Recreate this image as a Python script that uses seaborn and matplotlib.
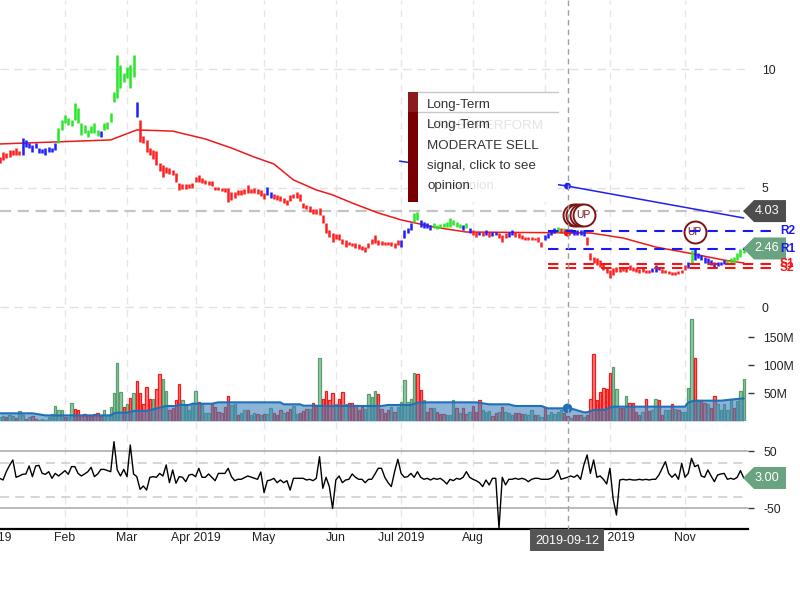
import numpy as np
import pandas as pd
import matplotlib
matplotlib.use("Agg")
import matplotlib.pyplot as plt
from matplotlib.patches import Polygon, Rectangle
import seaborn as sns

# ---------------- data ----------------
holidays = pd.to_datetime(["2019-01-21", "2019-02-18", "2019-04-19", "2019-05-27",
                           "2019-07-04", "2019-09-02"])
days = pd.bdate_range("2019-01-02", "2019-11-27")
days = days[~days.isin(holidays)]            # trading days; index 0 = 2019-01-02

# price bars from trading day 1 (Jan 3) to 229 (Nov 27)
bar_low = [
    6.05, 6.18, 6.26, 6.30, 6.39, 6.39, 6.40,
    6.39, 6.72, 6.68, 6.51, 6.68, 6.47, 6.45, 6.39, 6.51, 6.50, 6.60,
    6.89, 7.44, 7.73, 7.65, 7.62, 7.86, 7.73, 7.23, 7.31, 7.14, 7.30, 7.31, 7.20,
    7.14,
    7.44, 7.50, 7.79, 8.63, 8.78, 9.20, 9.45, 9.62, 9.20, 9.66,
    7.98, 6.93,
    6.90, 6.50, 6.40, 6.20, 5.97, 5.70, 5.46, 5.65, 5.60, 5.55,
    5.25, 4.92, 4.95, 4.95, 4.98, 5.00, 5.25, 5.25, 5.20, 5.15,
    5.12, 5.10, 4.92, 4.92, 4.88, 4.85, 4.41, 4.50, 4.60, 4.70,
    4.72, 4.75, 4.79, 4.80, 4.80, 4.75, 4.65, 4.55, 4.70, 4.60,
    4.55, 4.50, 4.45, 4.35, 4.29, 4.45, 4.60, 4.60, 4.45, 4.16,
    4.10, 4.00, 3.90, 3.92, 3.87, 3.53, 3.10, 2.95, 2.73, 2.85,
    2.80, 2.65, 2.52, 2.60, 2.55, 2.50, 2.45, 2.38, 2.31, 2.50,
    2.65, 2.69, 2.60, 2.62, 2.60, 2.60, 2.55, 2.50, 2.60,
    2.53, 2.89, 3.10, 3.24, 3.59, 3.66, 3.38, 3.31, 3.31, 3.24,
    3.31, 3.27, 3.31, 3.35, 3.38, 3.38, 3.45, 3.35, 3.31, 3.24,
    3.31, 3.10, 3.03, 2.95, 3.03, 3.00, 3.03, 2.95, 3.00, 3.03,
    2.89, 2.74, 2.89, 2.95, 3.03, 2.95, 2.91, 2.87, 2.82, 2.82,
    2.82, 2.80, 2.74, 2.53, 2.82, 2.89, 3.03, 3.10, 3.17, 3.10,
    3.13, 3.10, 3.10, 3.03, 3.03, 3.03, 3.00, 2.60,
    1.97, 1.84, 1.76, 1.69, 1.55, 1.42, 1.21, 1.34, 1.48, 1.48,
    1.50, 1.48, 1.55, 1.52, 1.48, 1.44, 1.48, 1.42, 1.42, 1.48,
    1.48, 1.55, 1.44, 1.42, 1.40, 1.34, 1.34, 1.38, 1.42, 1.55,
    1.63, 1.84, 1.97, 2.05, 1.97, 1.84, 1.84, 1.76, 1.69, 1.72,
    1.76, 1.80, 1.84, 1.86, 1.90, 1.97, 2.11, 2.26,
]
bar_high = [
    6.30, 6.50, 6.47, 6.60, 6.60, 6.68, 6.55,
    7.10, 7.02, 6.89, 6.81, 6.89, 6.68, 6.62, 6.68, 6.72, 6.68, 6.89,
    7.52, 7.86, 8.07, 7.94, 7.86, 8.57, 8.36, 7.73, 7.65, 7.44, 7.60, 7.73, 7.45,
    7.39,
    7.73, 7.78, 8.14, 9.05, 10.59, 10.17, 9.83, 10.08, 10.17, 10.59,
    8.61, 7.86,
    7.20, 7.00, 6.70, 6.60, 6.55, 6.05, 5.97, 5.88, 5.85, 5.75,
    5.63, 5.21, 5.15, 5.15, 5.15, 5.20, 5.46, 5.55, 5.40, 5.35,
    5.30, 5.28, 5.04, 5.04, 5.02, 5.00, 5.00, 4.83, 4.85, 4.90,
    4.92, 4.95, 5.13, 4.95, 5.00, 4.95, 4.90, 4.80, 5.04, 4.85,
    4.75, 4.70, 4.65, 4.60, 4.50, 4.70, 4.75, 4.85, 4.75, 4.37,
    4.30, 4.25, 4.10, 4.12, 4.16, 3.87, 3.53, 3.25, 3.10, 3.05,
    3.05, 2.85, 2.82, 2.75, 2.70, 2.68, 2.65, 2.55, 2.52, 2.70,
    2.85, 3.03, 2.80, 2.78, 2.75, 2.75, 2.72, 2.70, 2.80,
    2.82, 3.24, 3.31, 3.52, 3.94, 4.00, 3.66, 3.59, 3.52, 3.45,
    3.52, 3.45, 3.49, 3.52, 3.56, 3.73, 3.66, 3.59, 3.49, 3.45,
    3.52, 3.31, 3.24, 3.17, 3.17, 3.14, 3.24, 3.17, 3.17, 3.17,
    3.10, 3.03, 3.10, 3.17, 3.24, 3.17, 3.10, 3.03, 2.95, 2.95,
    2.95, 2.92, 2.95, 2.74, 3.03, 3.10, 3.24, 3.31, 3.38, 3.31,
    3.31, 3.27, 3.27, 3.24, 3.24, 3.24, 3.20, 2.94,
    2.26, 2.11, 2.05, 1.97, 1.84, 1.69, 1.55, 1.63, 1.69, 1.63,
    1.69, 1.63, 1.76, 1.66, 1.63, 1.58, 1.63, 1.55, 1.55, 1.63,
    1.76, 1.69, 1.58, 1.55, 1.52, 1.48, 1.48, 1.52, 1.55, 1.76,
    1.90, 2.39, 2.47, 2.26, 2.18, 2.11, 2.05, 1.97, 1.90, 1.90,
    1.90, 1.97, 1.97, 2.05, 2.11, 2.26, 2.42, 2.53,
]
bar_color = ("rrrrrrr" + "bbbbbbbbbbb" + "ggggggggggggg" + "b" + "gggggggggg" + "b" + "r"
             + "r" * 38 + "bb" + "r" * 39
             + "bbbbggbbbb" + "ggggggggg" + "bgb" + "rrbrbrbb" + "rrrbb" + "rrrrrrrrr"
             + "bbbb" + "grg" + "bbbbbb" + "r"
             + "r" * 19 + "bbb" + "r" * 8 + "b" + "g" + "b" * 10 + "g" * 6)

# volume (millions), same days
vol_m = [
    7.7, 9, 8, 10.7, 9, 5, 17.9, 10.7, 4, 7.7, 9, 4, 2, 3, 2, 7.7, 12, 26, 19, 19,
    7.7, 7.7, 31.5, 21, 19, 10.7, 12, 10.7, 9, 12.5, 14, 9, 19, 10.7, 25, 49.4, 103, 51, 25, 30,
    40.5, 49.4, 71.4, 49.4, 30, 60, 38.7, 38.7, 56.6, 83.3, 74.4, 53.6, 20, 24, 37.5, 65.5, 37.5, 26, 20, 30,
    53.6, 33.3, 30, 14.8, 14.8, 30, 25, 16.6, 13.7, 25, 44.6, 29, 30, 10.7, 13.7, 19.6, 19.6, 10.7, 13.7, 12,
    10, 12, 12, 23, 13.7, 10.7, 19.6, 13.7, 16.6, 21, 26, 12, 14.8, 17.9, 21, 21, 33, 26, 112, 38.7,
    53.6, 37.5, 49.4, 30, 38.7, 51, 30, 33, 31.5, 28.6, 19.6, 25, 21, 47.6, 42.3,
    53.6, 47.6, 21, 14, 19.6, 25.6, 15.5, 25.6, 33.3, 73, 33.3, 38.7, 85, 83.3, 54.8, 37.5, 16.6, 23.8, 23.8, 16.6,
    12, 12, 10.7, 10.7, 37.5, 23.8, 14, 23.8, 12, 16.6, 26.8, 15.5, 37.5, 19.6, 15.5, 17.9, 9.5, 14, 16.6, 25.6,
    15.5, 14, 10.7, 14, 15, 12, 12, 10.7, 19.6, 10.7, 10.7, 7, 23.8, 10.7, 16.6, 13, 15.5, 19.6, 14, 9.5,
    4.8, 10.7, 10.7, 10.7, 7, 10.7, 38.7, 119, 37.5, 51, 58.3, 56.6, 85, 97, 56.6, 23.8, 23.8, 44.6, 32.7, 31.5,
    16.6, 10.7, 16.6, 38.7, 17.9, 19, 38.7, 37, 10.7, 19.6, 19.6, 29.8, 21, 19.6, 16.6, 16.6, 58.3, 181.6, 112, 37.5,
    36, 31.5, 29.8, 23.8, 44.6, 29.8, 19.6, 29.8, 19.6, 38.7, 23.8, 36, 53.6, 75,
]
vol_dir = ("ggrggrggrgrrgggggggg" "rggrrrrrrrrrggggggrg" "rgrrrrrgrrggrrrrgggg"
           "grgggrrrrrrggrggrggr" "grggrrrgrrggrrrgrrgr" "rrrgrrgrrrrrggg"
           "grrrrgrggggggrrgrrgr" "rrgggrgrrgrrrgggrrgr" "gggrrrgggrggrgggggrr"
           "grrrgrrrrrrrrggrrgrr" "rrgrrggrrggrgrggggrg" "rrgrrgggggrggg")

# oscillator, same days
ind_val = [
    2.4, -0.5, 14, 25, 34.4, 4.2, 6.5, 9.4, 10, 24, 5.3, 24, 25, 11.1, 9.4, 14, 2.4, 11, 6.5, 11,
    15.8, 9.4, 22.8, 22.8, 11, 6.5, 10, 14, 21.6, 5.3, 10, 18, 18, 16, 14, 66.4, 17, 6.5, 18, 5.3,
    60.6, 10, 5.3, -16.8, -11, -18, 4.2, 5.3, 4.2, 11, 6.5, 25.7, -5.2, 17, -6.3, 5.3, 4.2, -3.4, 8.2, 9.4,
    5.3, 19.9, 4.2, 4.2, 10, 4.2, -1.7, 11, 11, 11, 19.9, 5.3, -1.7, 0.7, 0.7, 3.5, 6.5, 4.5, 2.4, 0.7,
    13.5, -22.6, -1.7, -0.5, 2.4, -5.2, -0.5, -5.2, -1.7, -18, 2.4, 2.4, 2.4, 2.4, -0.5, 0.7, -1.7, 2.4, 40.2, -15,
    4.2, -12, -50, -0.5, 6.5, -5.2, -0.5, 0.7, 10, 4.2, 0.7, 0.7, -5.2, 0.7, 0.7, 10, 19.9, 19.9, 4.2, -5.2,
    -12, 14, 35.6,
    11, 4.2, 5.3, 11, 4.2, 14, 4.2, 0.7, 2.4, -0.5, 2.4, 0.7, 2.4, -1.7, -7.5, 0.7, -1.7, 2.4, 0.7, 4.2,
    14, 4.2, 0.7, -1.7, -5.2, -12, -0.5, -9.2, 2.4, 2.4, -85, 4.2, -9.2, 0.7, 0.7, 2.4, 0.7, 2.4, 0.7, -3.4,
    0.7, 2.4, 2.4, 0.7, 0.7, 0.7, 2.4, 6.5, 17, 0.7, 2.4, 4.2, 6.5, 4.2, 8.2, 0.7, 25.7, 43.1, 11, 34.4,
    4.2, 6.5, 0.7, -7.5, 19.9, -34.2, -61.6, -0.5, 0.7, -0.5, 0.7, -0.5, -0.5, 0.7, -0.5, 0.7, -0.5, 0.7, 0.7, 8.2,
    19.9, 31.5, 11, 4.2, 10, 0.7, 28.6, 4.2, 11, 37.3, 22.8, 25.7, 6.5, 4.2, 17, 6.5, -3.4, 8.2, 10, 11,
    0.7, 2.4, 0.7, 4.2, 15.8, 3.0,
]

# long moving average of price (knots)
ma_day = [1, 17, 35, 43, 54, 64, 72, 79, 85, 91, 98, 103, 109, 117, 124, 134, 144, 182, 192, 202, 212, 223, 229]
ma_val = [6.85, 6.93, 7.02, 7.44, 7.39, 7.06, 6.68, 6.30, 6.01, 5.34, 4.92, 4.71, 4.37, 3.95, 3.66,
          3.36, 3.15, 3.11, 2.90, 2.52, 2.27, 1.97, 1.85]
# volume moving average (knots, millions)
vma_day = [1, 11, 15, 35, 36, 37, 40, 42, 46, 50, 52, 55, 56, 59, 60, 66, 68, 87, 88, 93, 94, 98, 99,
           118, 120, 127, 129, 131, 147, 151, 157, 159, 167, 169, 175, 177, 180, 181, 183, 186, 189,
           211, 212, 214, 222, 229]
vma_val = [13.7, 13.7, 10, 10, 13.7, 14.8, 14.8, 17.9, 17.9, 23.8, 26.8, 26.8, 28.6, 28.6, 30.9, 30.9,
           33.3, 33.3, 29.8, 29.8, 27.4, 27.4, 26.8, 26.8, 28.6, 28.6, 32.7, 33.3, 33.3, 29.8, 29.8,
           26.8, 26.8, 22.6, 22.6, 20.8, 15.5, 15.5, 19.6, 19.6, 25.6, 25.6, 33.3, 36.3, 36.3, 40.5]
# trend line
trend_day = [123.5, 175, 229]
trend_val = [6.13, 5.08, 3.74]

sel_day = 175                     # crosshair day
last_price, target_price = 2.46, 4.03
levels = {"R2": 3.21, "R1": 2.42, "S1": 1.81, "S2": 1.63}
up_day = [177, 178, 179, 180, 214]
up_val = [3.87, 3.87, 3.87, 3.87, 3.15]
ind_last = 3.00
price_ticks = [0, 5, 10]
vol_ticks = [50, 100, 150]
ind_ticks = [-50, 50]

# ---------------- style / layout ----------------
sns.set_style("white")
plt.rcParams["font.family"] = ["Liberation Sans", "DejaVu Sans"]

W, H = 800, 600
fig = plt.figure(figsize=(8, 6), dpi=100)


def px_rect(x0, y0, x1, y1):
    return [x0 / W, 1 - y1 / H, (x1 - x0) / W, (y1 - y0) / H]


px_per_day, x_first = 3.263, -3.5
xlim = ((0 - x_first) / px_per_day, (748 - x_first) / px_per_day)

ax_bg = fig.add_axes(px_rect(0, 0, 748, 529), zorder=0)
ax_p = fig.add_axes(px_rect(0, 0, 748, 421), zorder=1)
ax_v = fig.add_axes(px_rect(0, 307, 748, 421), zorder=2)
ax_i = fig.add_axes(px_rect(0, 440, 748, 529), zorder=2)
ax_o = fig.add_axes([0, 0, 1, 1], zorder=5)
ax_o.set_xlim(0, W)
ax_o.set_ylim(H, 0)
ax_o.axis("off")

for ax in (ax_bg, ax_p, ax_v, ax_i):
    ax.set_xlim(*xlim)
    ax.set_facecolor("none")
    for s in ax.spines.values():
        s.set_visible(False)
    ax.set_xticks([])
ax_bg.set_yticks([])
ax_bg.set_ylim(0, 1)

# month positions
month_first = pd.Series(np.arange(len(days)), index=days).groupby(days.to_period("M")).first()
month_pos = list(month_first.values)
month_lab = ["Jan 2019", "Feb", "Mar", "Apr 2019", "May", "Jun", "Jul 2019", "Aug", "Sep",
             "Oct 2019", "Nov"]
for p in month_pos[1:]:
    ax_bg.axvline(p, color="#e6e6e6", lw=1, ls=(0, (5, 4)))

# ---------------- price panel ----------------
ax_p.set_ylim((307 - 421) / 23.8, 307 / 23.8)
for v in price_ticks:
    ax_p.axhline(v, color="#e2e2e2", lw=1, ls=(0, (6, 4)), zorder=0)
ax_p.axhline(target_price, color="#c4c4c4", lw=1.6, ls=(0, (5, 3)), zorder=1)

x_bars = np.arange(1, 1 + len(bar_low))
cmap = {"r": "#ff1e1e", "b": "#1e1eff", "g": "#28e628"}
ax_p.vlines(x_bars, bar_low, bar_high, colors=[cmap[c] for c in bar_color], lw=1.8, zorder=3)

sns.lineplot(x=ma_day, y=ma_val, ax=ax_p, color="#f01818", lw=1.1, zorder=2)
sns.lineplot(x=trend_day, y=trend_val, ax=ax_p, color="#2020f0", lw=1.1, zorder=2)
ax_p.scatter([trend_day[1]], [trend_val[1]], s=24, color="#2020f0", edgecolors="none", zorder=4)
ax_p.scatter([sel_day], [np.interp(sel_day, ma_day, ma_val)], s=30, color="#f01818",
             edgecolors="none", zorder=4)

# signal circles (white filled, drawn one over another)
ax_p.scatter(up_day, up_val, s=250, facecolors="white", edgecolors="#7a1515", linewidths=1.4, zorder=4)
for d, v in zip([up_day[3], up_day[4]], [up_val[3], up_val[4]]):
    ax_p.text(d, v, "UP", color="#7a1515", fontsize=7.5, ha="center", va="center", zorder=4.5)

x_lvl_end = (775 - x_first) / px_per_day
for name, v in levels.items():
    col = "#1a1aee" if name.startswith("R") else "#f01414"
    ax_p.plot([169, x_lvl_end], [v, v], color=col, lw=1.5, ls=(0, (5, 3.5)), clip_on=False, zorder=5)

ax_p.yaxis.tick_right()
ax_p.set_yticks(price_ticks)
ax_p.set_yticklabels([str(t) for t in price_ticks])
ax_p.tick_params(axis="y", length=0, pad=10, labelsize=8.8, labelcolor="#222222")
ax_p.set_xlabel("")
ax_p.set_ylabel("")

# ---------------- volume panel ----------------
ax_v.set_ylim(0, (421 - 307) * 50 / 28)
fill = {"g": "#93c9a3", "r": "#ff7a7a"}
edge = {"g": "#5b9c70", "r": "#f01c1c"}
x_vol = np.arange(1, 1 + len(vol_m))
ax_v.bar(x_vol, vol_m, width=0.72, color=[fill[c] for c in vol_dir],
         edgecolor=[edge[c] for c in vol_dir], linewidth=0.9, zorder=1)
ax_v.fill_between(vma_day, vma_val, color="#3f82bc", alpha=0.6, lw=0, zorder=2)
sns.lineplot(x=vma_day, y=vma_val, ax=ax_v, color="#1f70b8", lw=1.5, zorder=3)
ax_v.scatter([sel_day], [np.interp(sel_day, vma_day, vma_val)], s=48, color="#1f70b8",
             edgecolors="none", zorder=4)
ax_v.yaxis.tick_right()
ax_v.set_yticks(vol_ticks)
ax_v.set_yticklabels([f"{t}M" for t in vol_ticks])
ax_v.tick_params(axis="y", length=4, width=1, color="#333333", pad=7, labelsize=8.8,
                 labelcolor="#222222")
ax_v.set_xlabel("")
ax_v.set_ylabel("")

# ---------------- oscillator panel ----------------
ax_i.set_ylim((479.7 - 529) / 0.573, (479.7 - 440) / 0.573)
for v in ind_ticks:
    ax_i.axhline(v, color="#b4b4b4", lw=1.3, zorder=0)
for v in (-30, 30):
    ax_i.axhline(v, color="#cccccc", lw=1.1, ls=(0, (6, 4)), zorder=0)
sns.lineplot(x=np.arange(1, 1 + len(ind_val)), y=ind_val, ax=ax_i, color="black", lw=1.0, zorder=2)
ax_i.spines["bottom"].set_visible(True)
ax_i.spines["bottom"].set_color("black")
ax_i.spines["bottom"].set_linewidth(1.6)
ax_i.yaxis.tick_right()
ax_i.set_yticks(ind_ticks)
ax_i.set_yticklabels([str(t) for t in ind_ticks])
ax_i.tick_params(axis="y", length=4, width=1, color="#333333", pad=7, labelsize=8.8,
                 labelcolor="#222222")
ax_i.set_xlabel("")
ax_i.set_ylabel("")

label_pos = [month_pos[0] - 3] + month_pos[1:]
for p, lab in zip(label_pos, month_lab):
    ax_i.text(p, -0.1, lab, transform=ax_i.get_xaxis_transform(), ha="center", va="center",
              fontsize=8.8, color="#222222", clip_on=False)

# ---------------- overlay: crosshair, tags, tooltip ----------------
fig.canvas.draw()


def to_px(ax, x, y):
    dx, dy = ax.transData.transform((x, y))
    return dx, H - dy


cx, _ = to_px(ax_p, sel_day, 0)
ax_o.plot([cx, cx], [0, 529], color="#a0a0a0", lw=1, ls=(0, (4, 3)), zorder=1)


def tag(ax, value, text, color):
    _, y = to_px(ax, 0, value)
    pts = [(743, y), (754, y - 11), (786, y - 11), (786, y + 11), (754, y + 11)]
    ax_o.add_patch(Polygon(pts, closed=True, facecolor=color, edgecolor="none", zorder=3))
    ax_o.text(767, y, text, color="white", fontsize=9.2, ha="center", va="center", zorder=4)


tag(ax_p, target_price, f"{target_price:.2f}", "#4d4d4d")
tag(ax_p, last_price, f"{last_price:.2f}", "#6aa380")
tag(ax_i, ind_last, f"{ind_last:.2f}", "#6aa380")

for name, v in levels.items():
    col = "#1a1aee" if name.startswith("R") else "#f01414"
    _, y = to_px(ax_p, 0, v)
    ax_o.text(780, y, name, color=col, fontsize=8.6, fontweight="bold", ha="left", va="center",
              zorder=5)

# date box
ax_o.add_patch(Rectangle((530, 529), 74, 22, facecolor="#555555", edgecolor="none", zorder=6))
ax_o.text(567, 540.5, days[sel_day].strftime("%Y-%m-%d"), color="white", fontsize=9,
          ha="center", va="center", zorder=7)

# tooltip
ax_o.add_patch(Rectangle((408, 92), 150, 110, facecolor="white", edgecolor="none", zorder=6))
ax_o.add_patch(Rectangle((408, 92), 10, 20, facecolor="#8b1c1c", edgecolor="none", zorder=7))
ax_o.add_patch(Rectangle((408, 112), 10, 90, facecolor="#7a0000", edgecolor="none", zorder=7))
for yy in (92, 112):
    ax_o.plot([418, 558], [yy, yy], color="#c8c8c8", lw=1, zorder=7)
ax_o.text(543, 126, "UNDERPERFORM", color="#e4e4e4", fontsize=9.6, ha="right", va="center", zorder=7)
ax_o.text(452, 186, "opinion.", color="#e4e4e4", fontsize=9.6, ha="left", va="center", zorder=7)
tip = ["Long-Term", "Long-Term", "MODERATE SELL", "signal, click to see", "opinion."]
for k, line in enumerate(tip):
    ax_o.text(427, 105 + 20.3 * k, line, color="#333333", fontsize=9.6, ha="left", va="center",
              zorder=8)

fig.savefig("out.png", dpi=100)
